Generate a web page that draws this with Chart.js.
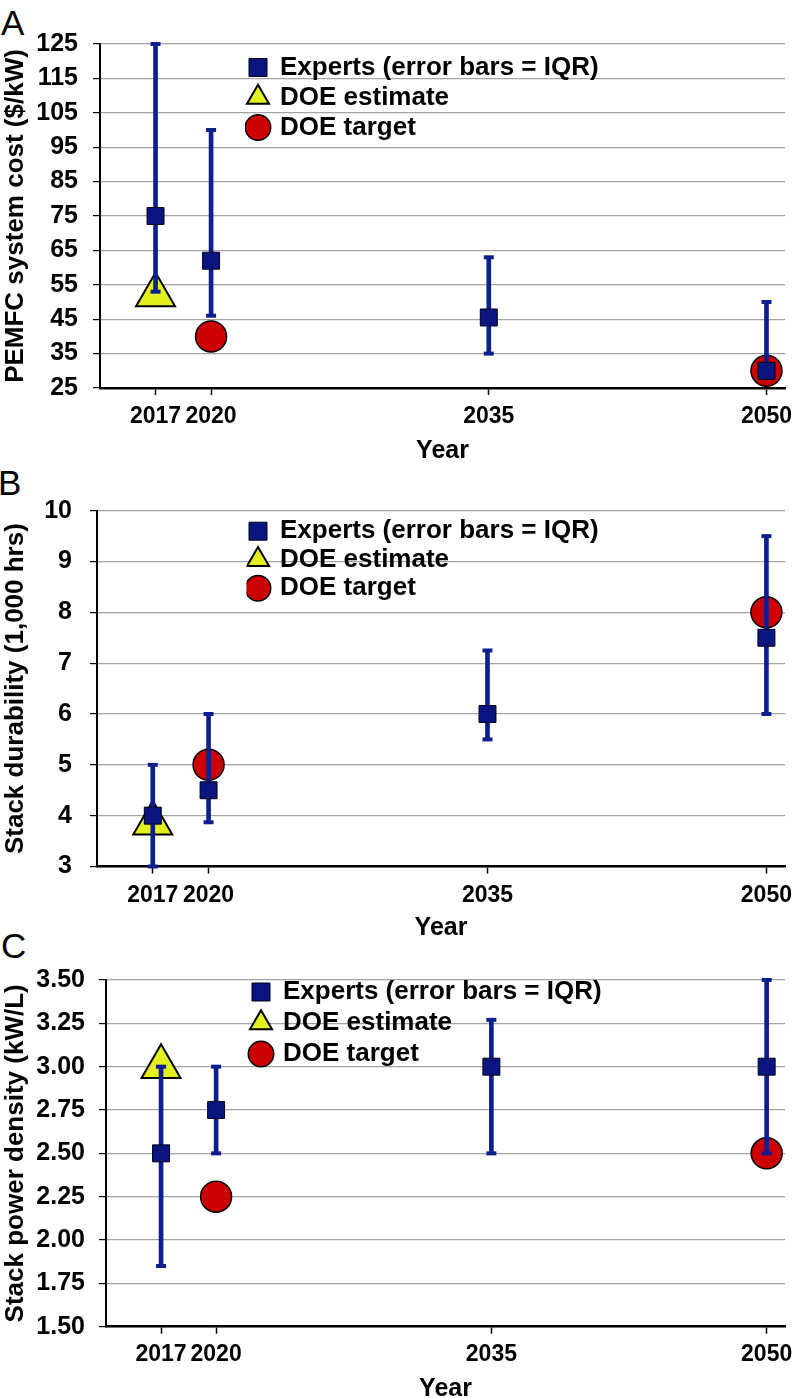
<!DOCTYPE html>
<html>
<head>
<meta charset="utf-8">
<script src="https://cdn.jsdelivr.net/npm/chart.js@4.4.1/dist/chart.umd.min.js"></script>
<style>
  html, body { margin: 0; padding: 0; background: #fff; overflow: hidden; }
  body { width: 793px; height: 1398px; position: relative; font-family: 'Liberation Sans', Arial, sans-serif; }
  canvas { position: absolute; left: 0; }
  .panel-letter { position: absolute; font-size: 35px; line-height: 1; color: #000; }
</style>
</head>
<body>
<div class="panel-letter" style="left:1px;top:5px">A</div>
<div class="panel-letter" style="left:-2px;top:465px">B</div>
<div class="panel-letter" style="left:1px;top:928px">C</div>
<canvas id="chartA"></canvas>
<canvas id="chartB"></canvas>
<canvas id="chartC"></canvas>
<script>
// ---- data ----
const years = [2017, 2020, 2035, 2050];

// A: PEMFC system cost ($/kW)
const costExperts = [75, 62, 45.5, 30];
const costLow = [53, 46, 35, 28];
const costHigh = [125, 100, 63, 50];
const costEstYears = [2017];
const costEstimate = [52];
const costTargetYears = [2020, 2050];
const costTarget = [40, 30];
const costTicks = [25, 35, 45, 55, 65, 75, 85, 95, 105, 115, 125];

// B: stack durability (1,000 hrs)
const durExperts = [4, 4.5, 6, 7.5];
const durLow = [3, 3.87, 5.5, 6];
const durHigh = [5, 6, 7.25, 9.5];
const durEstYears = [2017];
const durEstimate = [3.85];
const durTargetYears = [2020, 2050];
const durTarget = [5, 8];
const durTicks = [3, 4, 5, 6, 7, 8, 9, 10];

// C: stack power density (kW/L)
const densExperts = [2.5, 2.75, 3.0, 3.0];
const densLow = [1.85, 2.5, 2.5, 2.5];
const densHigh = [3.0, 3.0, 3.27, 3.5];
const densEstYears = [2017];
const densEstimate = [3.0];
const densTargetYears = [2020, 2050];
const densTarget = [2.25, 2.5];
const densTicks = [1.5, 1.75, 2.0, 2.25, 2.5, 2.75, 3.0, 3.25, 3.5];

const FONT = "'Liberation Sans', Arial, sans-serif";
const NAVY = '#0b1580';
const BAR = '#0d1f8f';
const YELLOW = '#e2f01e';
const RED = '#cc0000';
const CANVAS_W = 820;   // wider than the page so the plot can run to x=785
const PLOT_RIGHT = 785;

Chart.defaults.font.family = FONT;
Chart.defaults.color = '#000';

// move the legend into the plot, where the original has it
const legendPlace = {
  id: 'legendPlace',
  beforeDraw(chart, args, opts) {
    const lg = chart.legend;
    if (!lg) return;
    lg.left = opts.x;
    lg.right = opts.x + 520;
    lg.top = opts.y;
    lg.bottom = opts.y + 200;
  }
};

function pts(xs, ys) {
  return xs.map((x, i) => ({ x: x, y: ys[i] }));
}

function makePanel(p, d) {
  const canvas = document.getElementById(p.id);
  canvas.width = CANVAS_W;
  canvas.height = p.height;
  canvas.style.top = p.top + 'px';
  const xAxisH = p.top + p.height - p.areaBottom;

  const caps = pts(years, d.low).concat(pts(years, d.high));

  return new Chart(canvas, {
    type: 'scatter',
    data: {
      datasets: [
        {
          label: 'Experts (error bars = IQR)',
          data: pts(years, d.experts),
          pointStyle: 'rect', pointRadius: 12,
          backgroundColor: NAVY, borderColor: '#000015',
          borderWidth: 1, pointBorderWidth: 1,
          order: 0, clip: false
        },
        {
          label: 'DOE estimate',
          data: pts(d.estYears, d.estimate),
          pointStyle: 'triangle', pointRadius: 22.5,
          backgroundColor: YELLOW, borderColor: '#000',
          borderWidth: 2, pointBorderWidth: 2,
          order: 2, clip: false
        },
        {
          label: 'DOE target',
          data: pts(d.targetYears, d.target),
          pointStyle: 'circle', pointRadius: 15.5,
          backgroundColor: RED, borderColor: '#000',
          borderWidth: 1.5, pointBorderWidth: 1.5,
          order: 3, clip: false
        },
        {
          label: 'iqr',
          type: 'bar',
          data: years.map((x, i) => ({ x: x, y: [d.low[i], d.high[i]] })),
          barThickness: 4, backgroundColor: BAR, borderWidth: 0,
          order: 1, clip: false
        },
        {
          label: 'caps',
          data: caps,
          pointStyle: 'line', pointRadius: 5,
          borderColor: BAR, backgroundColor: BAR,
          borderWidth: 4, pointBorderWidth: 4,
          order: 1, clip: false
        }
      ]
    },
    options: {
      responsive: false,
      animation: false,
      devicePixelRatio: 1,
      events: [],
      layout: { padding: { left: 0, right: CANVAS_W - PLOT_RIGHT, top: p.areaTop - p.top, bottom: 0 } },
      scales: {
        x: {
          type: 'linear', min: 2014, max: 2051, offset: false,
          afterBuildTicks: s => { s.ticks = years.map(v => ({ value: v })); },
          afterFit: s => { s.height = xAxisH; s.paddingLeft = 0; s.paddingRight = 0; },
          border: { display: true, color: '#000', width: 2.5 },
          grid: { offset: false, drawOnChartArea: false, drawTicks: true, tickLength: 7, tickColor: '#000', tickWidth: 1.5 },
          ticks: {
            autoSkip: false, maxRotation: 0, padding: p.tickPad, color: '#000',
            font: { family: FONT, size: 23, weight: 'bold' },
            callback: v => String(v)
          },
          title: {
            display: true, text: 'Year', color: '#000',
            font: { family: FONT, size: 25, weight: 'bold' },
            padding: { top: 0, bottom: p.titlePad }
          }
        },
        y: {
          type: 'linear', min: d.ticks[0], max: d.ticks[d.ticks.length - 1],
          afterBuildTicks: s => { s.ticks = d.ticks.map(v => ({ value: v })); },
          afterFit: s => { s.width = p.areaLeft; s.paddingTop = 0; s.paddingBottom = 0; },
          border: { display: true, color: '#000', width: 2 },
          grid: { color: '#a3a3a3', lineWidth: 1.2, tickLength: 7, tickColor: '#000', tickWidth: 1.2 },
          ticks: {
            padding: p.yTickPad, color: '#000',
            font: { family: FONT, size: 25, weight: 'bold' },
            callback: d.fmt
          },
          title: {
            display: true, text: d.title, color: '#000',
            font: { family: FONT, size: 26, weight: 'bold' },
            padding: { top: p.yTitlePad, bottom: 0 }
          }
        }
      },
      plugins: {
        tooltip: { enabled: false },
        legend: {
          position: 'chartArea', align: 'start',
          labels: {
            usePointStyle: true, boxWidth: 18, boxHeight: 18, padding: p.legendGap,
            color: '#000', font: { family: FONT, size: 26, weight: 'bold' },
            filter: item => item.datasetIndex < 3
          }
        },
        legendPlace: { x: p.legendX, y: p.legendY - p.top }
      }
    },
    plugins: [legendPlace]
  });
}

makePanel(
  { id: 'chartA', top: 0, height: 470, areaTop: 44, areaBottom: 388, areaLeft: 100,
    tickPad: 8, yTickPad: 15, titlePad: 4, yTitlePad: 0, legendX: 245, legendY: 50.5, legendGap: 4 },
  { experts: costExperts, low: costLow, high: costHigh, estYears: costEstYears, estimate: costEstimate,
    targetYears: costTargetYears, target: costTarget, ticks: costTicks,
    title: 'PEMFC system cost ($/kW)', fmt: v => String(v) }
);

makePanel(
  { id: 'chartB', top: 465, height: 480, areaTop: 510.7, areaBottom: 866.5, areaLeft: 97,
    tickPad: 8.5, yTickPad: 18, titlePad: 2, yTitlePad: 0, legendX: 246.5, legendY: 515.7, legendGap: 2.5 },
  { experts: durExperts, low: durLow, high: durHigh, estYears: durEstYears, estimate: durEstimate,
    targetYears: durTargetYears, target: durTarget, ticks: durTicks,
    title: 'Stack durability (1,000 hrs)', fmt: v => String(v) }
);

makePanel(
  { id: 'chartC', top: 945, height: 460, areaTop: 980, areaBottom: 1326.7, areaLeft: 106,
    tickPad: 7.5, yTickPad: 14, titlePad: 1, yTitlePad: 0, legendX: 247, legendY: 974, legendGap: 5 },
  { experts: densExperts, low: densLow, high: densHigh, estYears: densEstYears, estimate: densEstimate,
    targetYears: densTargetYears, target: densTarget, ticks: densTicks,
    title: 'Stack power density (kW/L)', fmt: v => v.toFixed(2) }
);
</script>
</body>
</html>
